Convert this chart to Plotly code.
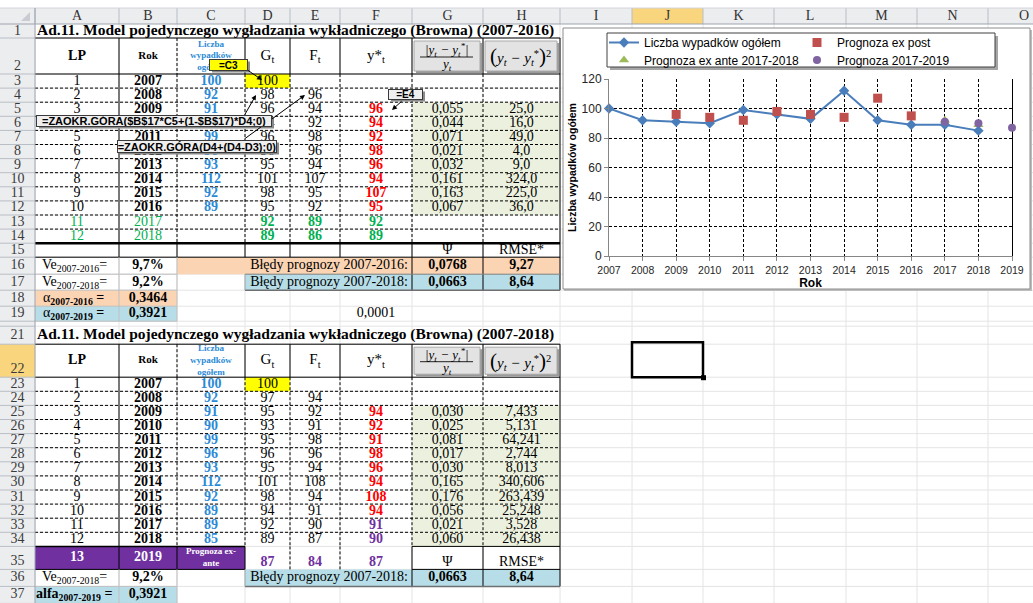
import plotly.graph_objects as go

# ---------------- data ----------------
lp = list(range(1, 13))
years = list(range(2007, 2019))
wypadki = [100, 92, 91, 90, 99, 96, 93, 112, 92, 89, 89, 85]

# model 2007-2016
t1_G = [100, 98, 96, 94, 96, 96, 95, 101, 98, 95, 92, 89]
t1_F = [None, 96, 94, 92, 98, 96, 94, 107, 95, 92, 89, 86]
t1_prog = [None, None, 96, 94, 92, 98, 96, 94, 107, 95, 92, 89]
t1_blad_wzgl = [0.055, 0.044, 0.071, 0.021, 0.032, 0.161, 0.163, 0.067]
t1_blad_kw = [25.0, 16.0, 49.0, 4.0, 9.0, 324.0, 225.0, 36.0]

# model 2007-2018
t2_G = [100, 97, 95, 93, 95, 96, 95, 101, 98, 94, 92, 89]
t2_F = [None, 94, 92, 91, 98, 96, 94, 108, 94, 91, 90, 87]
t2_prog = [None, None, 94, 92, 91, 98, 96, 94, 108, 94, 91, 90]
t2_blad_wzgl = [0.030, 0.025, 0.081, 0.017, 0.030, 0.165, 0.176, 0.056, 0.021, 0.060]
t2_blad_kw = [7.433, 5.131, 64.241, 2.744, 8.013, 340.606, 263.439, 25.248, 3.528, 26.438]
lp_2019, rok_2019 = 13, 2019
G_2019, F_2019, prog_2019 = 87, 84, 87

ve_2016, ve_2018 = 9.7, 9.2
alfa_2016, alfa_2019 = 0.3464, 0.3921
psi_2016, rmse_2016 = 0.0768, 9.27
psi_2018, rmse_2018 = 0.0663, 8.64
tolerancja = 0.0001

lata_osi = list(range(2007, 2020))

# ---------------- sheet geometry (px) ----------------
W, H = 1033, 603
COLS = list("ABCDEFGHIJKLMNO")
COL_X = [35, 119, 177, 245, 290, 340, 412, 483, 560, 632, 703, 774, 846, 917, 988, 1060]
ROW_H = {1: 14, 2: 36, 15: 14, 16: 17, 17: 16, 18: 16, 19: 15, 20: 5, 21: 18,
         22: 33, 35: 23, 36: 17, 37: 17}
HEAD_TOP, HEAD_BOT = 8, 24
ROW_Y = {}
_y = HEAD_BOT
for _r in range(1, 38):
    _h = ROW_H.get(_r, 14.1)
    ROW_Y[_r] = (_y, _y + _h)
    _y += _h


def L(c):
    return COL_X[COLS.index(c)]


def R(c):
    return COL_X[COLS.index(c) + 1]


def CX(c):
    return (L(c) + R(c)) / 2


def T(r):
    return ROW_Y[r][0]


def B(r):
    return ROW_Y[r][1]


def CY(r):
    return sum(ROW_Y[r]) / 2


def fmt(v, d):
    return f"{v:.{d}f}".replace(".", ",")


SERIF = "Liberation Serif, Times New Roman, serif"
SANS = "Liberation Sans, Arial, sans-serif"
BLUE_TXT = "#2B8AD6"
RED_TXT = "#FF0000"
GREEN_TXT = "#00B050"
PURPLE = "#7030A0"
ORANGE_FILL = "#FBD4B4"
BLUE_FILL = "#B7DEE8"
OLIVE_FILL = "#EBF1DE"
GRID = "#E4E4E4"
HEAD_FILL = "#ECEDEF"
HEAD_SEL = "#F9D57E"
HEAD_LINE = "#B9BEC6"

shapes = []
annotations = []


def line(x0, y0, x1, y1, color="#000000", width=1, dash="solid", layer="below"):
    shapes.append(dict(type="line", xref="x", yref="y", x0=x0, y0=y0, x1=x1, y1=y1,
                       line=dict(color=color, width=width, dash=dash), layer=layer))


def rect(x0, y0, x1, y1, fill, color=None, width=0, layer="below"):
    shapes.append(dict(type="rect", xref="x", yref="y", x0=x0, y0=y0, x1=x1, y1=y1,
                       fillcolor=fill, line=dict(color=color or fill, width=width),
                       layer=layer))


DASH = "3px,2px"

# ---------------- sheet gridlines ----------------
for x in COL_X:
    line(x, HEAD_BOT, x, H, color=GRID)
for r in range(1, 38):
    line(COL_X[0], B(r), W, B(r), color=GRID)

# ---------------- cell fills ----------------
for ref_row in (3, 23):
    rect(L("D"), T(ref_row), R("D"), B(ref_row), "#FFFF00")
rect(L("G"), T(5), R("H"), B(12), OLIVE_FILL)
rect(L("G"), T(25), R("H"), B(34), OLIVE_FILL)
rect(L("C"), T(16), R("H"), B(16), ORANGE_FILL)
rect(L("D"), T(17), R("H"), B(17), BLUE_FILL)
rect(L("A"), T(18), R("B"), B(18), ORANGE_FILL)
rect(L("A"), T(19), R("B"), B(19), BLUE_FILL)
rect(L("A"), T(35), R("C"), B(35), PURPLE)
rect(L("D"), T(36), R("H"), B(36), BLUE_FILL)
rect(L("A"), T(37), R("B"), B(37), BLUE_FILL)


# ---------------- table borders ----------------
def table_frame(h, d0, d1):
    x_left, x_right = L("A"), R("H")
    line(x_left, T(h), x_right, T(h))
    line(x_left, B(h), x_right, B(h))
    for c in "BCDEFGH":
        line(L(c), T(h), L(c), B(h), dash=DASH if c == "C" else "solid")
    line(x_right, T(h), x_right, B(d1))
    for r in range(d0 + 1, d1 + 1):
        line(x_left, T(r), x_right, T(r), dash=DASH)
    for c in "BCDEFGH":
        line(L(c), T(d0), L(c), B(d1), dash="solid" if c == "B" else DASH)


table_frame(2, 3, 14)
table_frame(22, 23, 34)

# table 1 footer
line(L("A"), B(14), R("H"), B(14), width=2.5)
for c in "BCDEFGH":
    line(L(c), T(15), L(c), B(15))
line(R("H"), T(15), R("H"), B(17))
line(L("A"), B(15), R("H"), B(15))
for c in "GH":
    line(L(c), T(16), L(c), B(17))
line(L("D"), B(16), R("H"), B(16), color="#7F7F7F")
line(L("D"), B(17), R("H"), B(17), color="#6F6F6F", width=1.5)
line(L("D"), T(17), L("D"), B(17), color="#9F9F9F")
for r in (16, 17, 18, 19):
    line(L("A"), B(r), R("B"), B(r), color="#BFBFBF")
line(L("B"), T(16), L("B"), B(19), color="#BFBFBF")
line(R("B"), T(16), R("B"), B(19), color="#BFBFBF")

# table 2 footer
line(L("A"), B(34), R("C"), B(34), width=1.5)
line(L("G"), B(34), R("H"), B(34))
for c in "BCDGH":
    line(L(c), T(35), L(c), B(35))
for c in "EF":
    line(L(c), T(35), L(c), B(35), dash=DASH)
line(R("H"), T(35), R("H"), B(36))
line(L("A"), B(35), R("C"), B(35))
line(L("G"), B(35), R("H"), B(35))
for c in "GH":
    line(L(c), T(36), L(c), B(36))
line(L("D"), B(36), R("H"), B(36), color="#6F6F6F", width=1.5)
line(L("D"), T(36), L("D"), B(36), color="#9F9F9F")
for r in (36, 37):
    line(L("A"), B(r), R("B"), B(r), color="#BFBFBF")
line(L("B"), T(36), L("B"), B(37), color="#BFBFBF")
line(R("B"), T(36), R("B"), B(37), color="#BFBFBF")

# formula buttons in the error-measure headers
for h in (2, 22):
    for c in "GH":
        x0, x1 = L(c) + 2, R(c) - 3
        y0, y1 = T(h) + 3, B(h) - 3
        rect(x0 + 2, y0 + 2, x1 + 2, y1 + 2, "#9A9A9A")
        rect(x0, y0, x1, y1, "#E3E3E3", color="#A8A8A8", width=1)
    line(L("G") + 8, CY(h) + 1, R("G") - 10, CY(h) + 1, color="#222222", width=1)

# ---------------- row / column headers ----------------
rect(0, HEAD_TOP, W, HEAD_BOT, HEAD_FILL)
rect(L("J"), HEAD_TOP, R("J"), HEAD_BOT, HEAD_SEL)
rect(0, HEAD_BOT, COL_X[0], H, HEAD_FILL)
rect(0, T(22), COL_X[0], B(22), HEAD_SEL)
for x in COL_X:
    line(x, HEAD_TOP, x, HEAD_BOT, color=HEAD_LINE)
line(0, HEAD_BOT, W, HEAD_BOT, color="#9EA4AE")
line(0, HEAD_TOP, W, HEAD_TOP, color="#D0D4DA")
for r in range(1, 38):
    line(0, B(r), COL_X[0], B(r), color=HEAD_LINE)
line(COL_X[0], HEAD_TOP, COL_X[0], H, color="#9EA4AE")
shapes.append(dict(type="path", xref="x", yref="y", path="M 30 12 L 30 21 L 21 21 Z",
                   fillcolor="#C9CDD3", line=dict(width=0), layer="below"))

# ---------------- chart frame and legend box ----------------
CH_X0, CH_X1, CH_Y0, CH_Y1 = 563, 1030, 28, 289
rect(CH_X0 + 1, CH_Y0 + 2, CH_X1 + 2, CH_Y1 + 2, "#BDBDBD")
rect(CH_X0, CH_Y0, CH_X1, CH_Y1, "#FFFFFF", color="#8C8C8C", width=1)
LG_X0, LG_X1, LG_Y0, LG_Y1 = 607, 995, 33, 67
rect(LG_X0 + 3, LG_Y0 + 3, LG_X1 + 3, LG_Y1 + 3, "#A6A6A6")
rect(LG_X0, LG_Y0, LG_X1, LG_Y1, "#FFFFFF", color="#404040", width=1)

# selected cell J22
rect(L("J"), T(22) - 2, R("J"), B(22), "rgba(0,0,0,0)", color="#000000", width=2.5,
     layer="above")
rect(R("J") - 2, B(22) - 2, R("J") + 3, B(22) + 3, "#000000", layer="above")

# ---------------- cell texts ----------------
texts = {}


def put(x, y, s, color="#000000", size=14, family=SERIF, pos="middle center"):
    key = (color, size, family, pos)
    d = texts.setdefault(key, {"x": [], "y": [], "t": []})
    d["x"].append(x)
    d["y"].append(y)
    d["t"].append(s)


def cell(c, r, s, **kw):
    put(CX(c), CY(r), s, **kw)


# column letters and row numbers
for c in COLS:
    put(CX(c), (HEAD_TOP + HEAD_BOT) / 2 + 0.5, c, color="#333333", size=14)
for r in range(1, 38):
    if r == 20:
        continue
    yy = B(r) - 8 if r in (2, 22, 35) else CY(r)
    put(COL_X[0] / 2, yy, str(r), color="#3A3A3A", size=14)


def header_row(h, title):
    put(L("A") + 2, CY(h - 1), f"<b>{title}</b>", size=15.5, pos="middle right")
    cell("A", h, "<b>LP</b>")
    cell("B", h, "<b>Rok</b>", size=11)
    cell("C", h, "<b>Liczba<br>wypadków<br>ogółem</b>", color=BLUE_TXT, size=9)
    cell("D", h, "G<sub>t</sub>", size=15)
    cell("E", h, "F<sub>t</sub>", size=15)
    cell("F", h, "y*<sub>t</sub>", size=15)
    annotations.append(dict(x=CX("G") - 1, y=CY(h) - 6, xref="x", yref="y", showarrow=False,
                            text="<i>|y<sub>t</sub> − y<sub>t</sub><sup>*</sup>|</i>",
                            font=dict(family=SERIF, size=13, color="#000")))
    annotations.append(dict(x=CX("G") - 1, y=CY(h) + 8, xref="x", yref="y", showarrow=False,
                            text="<i>y<sub>t</sub></i>",
                            font=dict(family=SERIF, size=13, color="#000")))
    annotations.append(dict(x=CX("H") - 1, y=CY(h), xref="x", yref="y", showarrow=False,
                            text="<span style='font-size:21px'>(</span><i>y<sub>t</sub> − y<sub>t</sub></i>"
                                 "<sup>*</sup><span style='font-size:21px'>)</span><sup>2</sup>",
                            font=dict(family=SERIF, size=15, color="#000")))


header_row(2, "Ad.11. Model pojedynczego wygładzania wykładniczego (Browna) (2007-2016)")
header_row(22, "Ad.11. Model pojedynczego wygładzania wykładniczego (Browna) (2007-2018)")

# table 1 body
for i in range(12):
    r = 3 + i
    ex_ante = i >= 10
    if ex_ante:
        cell("A", r, str(lp[i]), color=GREEN_TXT)
        cell("B", r, str(years[i]), color=GREEN_TXT)
        cell("D", r, f"<b>{t1_G[i]}</b>", color=GREEN_TXT)
        cell("E", r, f"<b>{t1_F[i]}</b>", color=GREEN_TXT)
        cell("F", r, f"<b>{t1_prog[i]}</b>", color=GREEN_TXT)
        continue
    cell("A", r, str(lp[i]))
    cell("B", r, f"<b>{years[i]}</b>")
    cell("C", r, f"<b>{wypadki[i]}</b>", color=BLUE_TXT)
    cell("D", r, str(t1_G[i]))
    if t1_F[i] is not None:
        cell("E", r, str(t1_F[i]))
    if t1_prog[i] is not None:
        cell("F", r, f"<b>{t1_prog[i]}</b>", color=RED_TXT)
        cell("G", r, fmt(t1_blad_wzgl[i - 2], 3))
        cell("H", r, fmt(t1_blad_kw[i - 2], 1))

cell("G", 15, "Ψ")
cell("H", 15, "RMSE*")
put(L("A") + 7, CY(16), f"Ve<sub>2007-2016</sub>=", pos="middle right")
cell("B", 16, f"<b>{fmt(ve_2016, 1)}%</b>")
put(R("F") - 4, CY(16), "Błędy prognozy 2007-2016:", pos="middle left")
cell("G", 16, f"<b>{fmt(psi_2016, 4)}</b>")
cell("H", 16, f"<b>{fmt(rmse_2016, 2)}</b>")
put(L("A") + 7, CY(17), f"Ve<sub>2007-2018</sub>=", pos="middle right")
cell("B", 17, f"<b>{fmt(ve_2018, 1)}%</b>")
put(R("F") - 4, CY(17), "Błędy prognozy 2007-2018:", pos="middle left")
cell("G", 17, f"<b>{fmt(psi_2018, 4)}</b>")
cell("H", 17, f"<b>{fmt(rmse_2018, 2)}</b>")
put(L("A") + 8, CY(18), "α<b><sub>2007-2016</sub> =</b>", pos="middle right")
cell("B", 18, f"<b>{fmt(alfa_2016, 4)}</b>")
put(L("A") + 8, CY(19), "α<b><sub>2007-2019</sub> =</b>", pos="middle right")
cell("B", 19, f"<b>{fmt(alfa_2019, 4)}</b>")
cell("F", 19, fmt(tolerancja, 4))

# table 2 body
for i in range(12):
    r = 23 + i
    cell("A", r, str(lp[i]))
    cell("B", r, f"<b>{years[i]}</b>")
    cell("C", r, f"<b>{wypadki[i]}</b>", color=BLUE_TXT)
    cell("D", r, str(t2_G[i]))
    if t2_F[i] is not None:
        cell("E", r, str(t2_F[i]))
    if t2_prog[i] is not None:
        cell("F", r, f"<b>{t2_prog[i]}</b>", color=PURPLE if i >= 10 else RED_TXT)
        cell("G", r, fmt(t2_blad_wzgl[i - 2], 3))
        cell("H", r, fmt(t2_blad_kw[i - 2], 3))

cell("A", 35, f"<b>{lp_2019}</b>", color="#FFFFFF")
cell("B", 35, f"<b>{rok_2019}</b>", color="#FFFFFF")
cell("C", 35, "<b>Prognoza ex-<br>ante</b>", color="#FFFFFF", size=9)
y35 = B(35) - 7
put(CX("D"), y35, f"<b>{G_2019}</b>", color=PURPLE)
put(CX("E"), y35, f"<b>{F_2019}</b>", color=PURPLE)
put(CX("F"), y35, f"<b>{prog_2019}</b>", color=PURPLE)
put(CX("G"), y35, "Ψ")
put(CX("H"), y35, "RMSE*")
put(L("A") + 7, CY(36), f"Ve<sub>2007-2018</sub>=", pos="middle right")
cell("B", 36, f"<b>{fmt(ve_2018, 1)}%</b>")
put(R("F") - 4, CY(36), "Błędy prognozy 2007-2018:", pos="middle left")
cell("G", 36, f"<b>{fmt(psi_2018, 4)}</b>")
cell("H", 36, f"<b>{fmt(rmse_2018, 2)}</b>")
put(L("A") + 1, CY(37), "<b>alfa<sub>2007-2019</sub> =</b>", pos="middle right")
cell("B", 37, f"<b>{fmt(alfa_2019, 4)}</b>")


# ---------------- formula callouts ----------------
def callout(text, xc, yc, w, h, bg, size=11):
    shapes.append(dict(type="rect", xref="x", yref="y", x0=xc - w / 2 + 2, x1=xc + w / 2 + 3,
                       y0=yc - h / 2 + 2, y1=yc + h / 2 + 3, fillcolor="#8A8A8A",
                       line=dict(width=0), layer="above"))
    annotations.append(dict(x=xc, y=yc, xref="x", yref="y", text=f"<b>{text}</b>",
                            showarrow=False, width=w, height=h, bgcolor=bg,
                            bordercolor="#3A3A3A", borderwidth=1, borderpad=0,
                            font=dict(family=SANS, size=size, color="#000")))


def pointer(x0, y0, x1, y1):
    annotations.append(dict(x=x1, y=y1, ax=x0, ay=y0, xref="x", yref="y", axref="x",
                            ayref="y", text="", showarrow=True, arrowhead=2, arrowsize=1,
                            arrowwidth=1, arrowcolor="#000", standoff=0, startstandoff=0))


pointer(246, 69, 262, 80)
pointer(403, 100, 392, 110)
pointer(244, 116, 256, 95)
pointer(243, 140, 305, 95)
callout("=C3", 228.5, 64.5, 37, 10, "#FFFF00", size=10)
callout("=E4", 405.5, 94, 33, 9, "#EFEFEF", size=10)
callout("=ZAOKR.GÓRA($B$17*C5+(1-$B$17)*D4;0)", 154, 120.5, 234, 10, "#EFEFEF", size=11)
callout("=ZAOKR.GÓRA(D4+(D4-D3);0)", 197, 146, 158, 11, "#EFEFEF", size=11)

# ---------------- figure ----------------
fig = go.Figure()
for (color, size, family, pos), d in texts.items():
    fig.add_trace(go.Scatter(x=d["x"], y=d["y"], text=d["t"], mode="text",
                             textposition=pos, cliponaxis=False, hoverinfo="skip",
                             textfont=dict(color=color, size=size, family=family),
                             showlegend=False, xaxis="x", yaxis="y"))

fig.add_trace(go.Scatter(x=years, y=wypadki, mode="lines+markers",
                         name="Liczba wypadków ogółem", legend="legend",
                         line=dict(color="#4A7EBB", width=2),
                         marker=dict(symbol="diamond", size=8, color="#4A7EBB"),
                         xaxis="x2", yaxis="y2", cliponaxis=False))
fig.add_trace(go.Scatter(x=years[2:10], y=t1_prog[2:10], mode="markers",
                         name="Prognoza ex post", legend="legend",
                         marker=dict(symbol="square", size=9, color="#C0504D"),
                         xaxis="x2", yaxis="y2", cliponaxis=False))
fig.add_trace(go.Scatter(x=years[10:12], y=t1_prog[10:12], mode="markers",
                         name="Prognoza ex ante 2017-2018", legend="legend2",
                         marker=dict(symbol="triangle-up", size=9, color="#9BBB59"),
                         xaxis="x2", yaxis="y2", cliponaxis=False))
fig.add_trace(go.Scatter(x=years[10:12] + [rok_2019], y=t2_prog[10:12] + [prog_2019],
                         mode="markers", name="Prognoza 2017-2019", legend="legend2",
                         marker=dict(symbol="circle", size=8, color="#8064A2"),
                         xaxis="x2", yaxis="y2", cliponaxis=False))
# an invisible trace keeps the right-hand frame axis active
fig.add_trace(go.Scatter(x=[lata_osi[-1]], y=[0], mode="markers", marker=dict(opacity=0),
                         xaxis="x2", yaxis="y3", showlegend=False, hoverinfo="skip"))

legend_style = dict(orientation="h", x=604 / W, xanchor="left", yanchor="top",
                    bgcolor="rgba(0,0,0,0)", borderwidth=0,
                    font=dict(family=SANS, size=12, color="#000"),
                    entrywidth=148, entrywidthmode="pixels", tracegroupgap=0)

PX0, PX1, PY_TOP, PY_BOT = 609, 1012, 79, 256
fig.update_layout(
    template="none",
    width=W, height=H,
    margin=dict(l=0, r=0, t=0, b=0, pad=0),
    paper_bgcolor="#FFFFFF", plot_bgcolor="rgba(0,0,0,0)",
    font=dict(family=SANS, size=12, color="#000"),
    hovermode=False,
    xaxis=dict(domain=[0, 1], range=[0, W], visible=False, fixedrange=True),
    yaxis=dict(domain=[0, 1], range=[H, 0], visible=False, fixedrange=True),
    xaxis2=dict(domain=[PX0 / W, PX1 / W], anchor="y2", range=[lata_osi[0], lata_osi[-1]],
                tickvals=lata_osi, ticktext=[str(v) for v in lata_osi],
                tickfont=dict(family=SANS, size=10.5, color="#262626"),
                showgrid=True, gridcolor="#000000", gridwidth=1, griddash="3px,2px",
                showline=True, linecolor="#868686", linewidth=1, zeroline=False,
                ticks="outside", ticklen=4, tickcolor="#868686", automargin=False,
                title=dict(text="<b>Rok</b>", font=dict(family=SANS, size=12, color="#000"),
                           standoff=0)),
    yaxis2=dict(domain=[1 - PY_BOT / H, 1 - PY_TOP / H], anchor="x2", range=[0, 120],
                dtick=20, tickfont=dict(family=SANS, size=12, color="#262626"),
                showgrid=True, gridcolor="#000000", gridwidth=1, griddash="3px,2px",
                showline=True, linecolor="#868686", linewidth=1, zeroline=False,
                ticks="outside", ticklen=4, tickcolor="#868686", automargin=False,
                title=dict(text="<b>Liczba wypadków ogółem</b>",
                           font=dict(family="Liberation Sans Narrow, Arial Narrow, " + SANS,
                                     size=10.5, color="#000"),
                           standoff=2)),
    # right-hand frame of the plot area (solid line at 2019, under the markers)
    yaxis3=dict(domain=[1 - PY_BOT / H, 1 - PY_TOP / H], anchor="x2", overlaying="y2",
                side="right", range=[0, 120], showline=True, linecolor="#000000",
                linewidth=1, showgrid=False, zeroline=False, showticklabels=False,
                ticks="", layer="below traces", automargin=False),
    legend=dict(y=1 - 28 / H, **legend_style),
    legend2=dict(y=1 - 45.5 / H, **legend_style),
    shapes=shapes,
    annotations=annotations,
)

fig.write_html("out.html", config={"displayModeBar": False})
